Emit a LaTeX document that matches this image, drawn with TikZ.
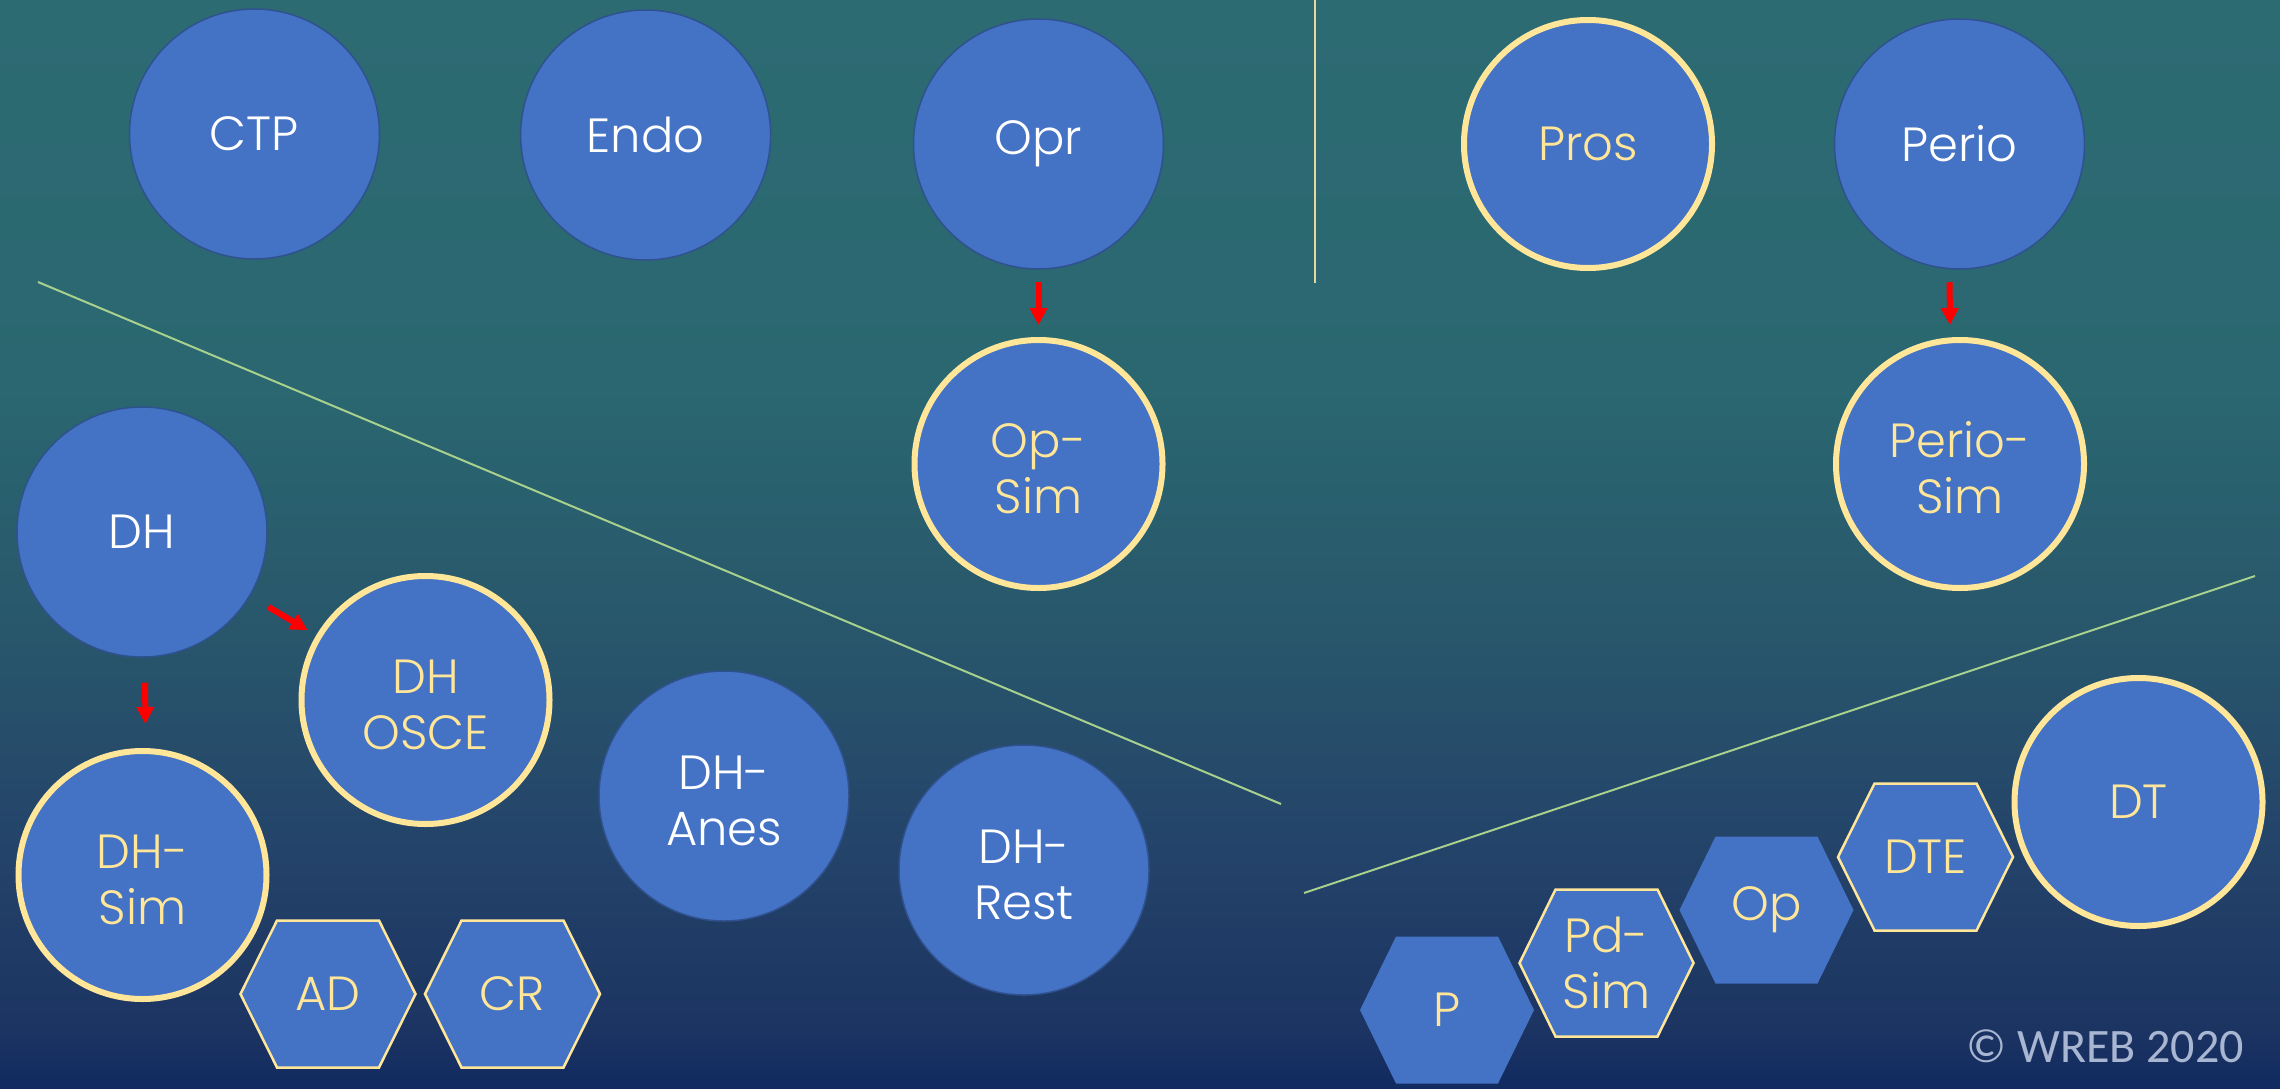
\documentclass[tikz,border=0pt]{standalone}
\usepackage{fontspec}
\setmainfont{Poppins}[UprightFont=* Light]
\newfontfamily\copyfont{Carlito}
\usetikzlibrary{arrows.meta}
\definecolor{bgA}{HTML}{112A60}
\definecolor{bgB}{HTML}{1C3462}
\definecolor{bgC}{HTML}{24446A}
\definecolor{bgD}{HTML}{28566B}
\definecolor{bgE}{HTML}{2A6770}
\definecolor{bgF}{HTML}{2D6B73}
\definecolor{cblue}{HTML}{4472C4}
\definecolor{cedge}{HTML}{2F528F}
\definecolor{cyel}{HTML}{FFE699}
\definecolor{cgreen}{HTML}{A9D18E}
\definecolor{cvline}{HTML}{E8D8A0}
\definecolor{ccopy}{HTML}{A8B6D2}
\pgfdeclareverticalshading{bgshade}{100bp}{color(0bp)=(bgA); color(25bp)=(bgA); color(27.75bp)=(bgB); color(36.5bp)=(bgC); color(45.7bp)=(bgD); color(57.1bp)=(bgE); color(75bp)=(bgF); color(100bp)=(bgF)}
\newcommand\nfont{\fontsize{48}{56}\selectfont}
\newcommand\dnstrut{\rule{0pt}{44pt}}
\tikzset{
  bluec/.style={circle, fill=cblue, draw=cedge, line width=1.5pt, minimum size=250pt, inner sep=0pt, text=white, font=\nfont, align=center},
  yelc/.style={circle, fill=cblue, draw=cyel, line width=6pt, minimum size=248pt, inner sep=0pt, text=cyel, font=\nfont, align=center},
  hextxt/.style={inner sep=0pt, text=cyel, font=\nfont, align=center},
  hexplain/.style={fill=cblue},
  hexyel/.style={fill=cblue, draw=cyel, line width=2.5pt, line join=miter},
  greenline/.style={draw=cgreen, line width=2pt},
  vline/.style={draw=cvline, line width=2pt},
  redarrow/.style={draw=red, line width=6pt, -{Triangle[width=17pt,length=17pt]}},
  copytext/.style={text=ccopy, font=\copyfont\fontsize{48}{52}\selectfont, inner sep=0pt}
}
\begin{document}
\begin{tikzpicture}[x=1pt,y=-1pt]
\useasboundingbox (0,0) rectangle (2280,1089);
\shade[shading=bgshade] (0,0) rectangle (2280,1089);

% separator lines
\draw[greenline] (38,282) -- (1281,804);
\draw[greenline] (1304,893) -- (2255,576);
\draw[vline] (1315,0) -- (1315,283);

% top row circles
\node[bluec] (CTP) at (254.5,134) {CTP};
\node[bluec] (Endo) at (645.6,135) {Endo};
\node[bluec] (Opr) at (1038.5,144) {Opr};
\node[yelc] (Pros) at (1588,144) {Pros};
\node[bluec] (Perio) at (1959.5,144) {Perio};
\node[yelc] (OpSim) at (1038.5,464) {\dnstrut Op-\\Sim};
\node[yelc] (PerioSim) at (1960,464) {\dnstrut Perio-\\Sim};

% left group
\node[bluec] (DH) at (142,532) {DH};
\node[yelc] (DHOSCE) at (425.5,700) {\dnstrut DH\\OSCE};
\node[yelc] (DHSim) at (142.5,875) {\dnstrut DH-\\Sim};
\node[bluec] (DHAnes) at (724,796) {\dnstrut DH-\\Anes};
\node[bluec] (DHRest) at (1024,870) {\dnstrut DH-\\Rest};

% right group
\node[yelc] (DT) at (2138.5,802) {DT};

% hexagons
\coordinate (ADc) at (328,994);
\coordinate (CRc) at (512.5,994);
\coordinate (Pc) at (1447,1010);
\coordinate (PdSimc) at (1606.5,963);
\coordinate (Opc) at (1766.5,910);
\coordinate (DTEc) at (1925.5,857);
\path[hexyel] (ADc) +(-87.5,0) -- +(-51,-73.5) -- +(51,-73.5) -- +(87.5,0) -- +(51,73.5) -- +(-51,73.5) -- cycle;
\path[hexyel] (CRc) +(-87.5,0) -- +(-51,-73.5) -- +(51,-73.5) -- +(87.5,0) -- +(51,73.5) -- +(-51,73.5) -- cycle;
\path[hexplain] (Pc) +(-87,0) -- +(-51,-73.5) -- +(51,-73.5) -- +(87,0) -- +(51,73.5) -- +(-51,73.5) -- cycle;
\path[hexyel] (PdSimc) +(-87,0) -- +(-51,-73.5) -- +(51,-73.5) -- +(87,0) -- +(51,73.5) -- +(-51,73.5) -- cycle;
\path[hexplain] (Opc) +(-87,0) -- +(-51,-73.5) -- +(51,-73.5) -- +(87,0) -- +(51,73.5) -- +(-51,73.5) -- cycle;
\path[hexyel] (DTEc) +(-87.5,0) -- +(-51,-73.5) -- +(51,-73.5) -- +(87.5,0) -- +(51,73.5) -- +(-51,73.5) -- cycle;
\node[hextxt] (AD) at (ADc) {AD};
\node[hextxt] (CR) at (CRc) {CR};
\node[hextxt] (P) at (Pc) {P};
\node[hextxt] (PdSim) at (PdSimc) {Pd-\\Sim};
\node[hextxt] (Op) at (Opc) {Op};
\node[hextxt] (DTE) at (DTEc) {DTE};

% arrows
\draw[redarrow, shorten <=12.5pt, shorten >=12pt] (Opr) -- (OpSim);
\draw[redarrow, shorten <=12.5pt, shorten >=12pt] ([xshift=-10pt]Perio.south) -- ([xshift=-10pt]PerioSim.north);
\draw[redarrow, shorten <=21pt, shorten >=10pt] (DH) -- (DHOSCE);
\draw[redarrow, shorten <=25pt, shorten >=24pt] ([xshift=3pt]DH.south) -- ([xshift=3pt]DHSim.north);

% copyright
\node[copytext, anchor=base east] (copy) at (2244,1062) {© WREB 2020};
\end{tikzpicture}
\end{document}
